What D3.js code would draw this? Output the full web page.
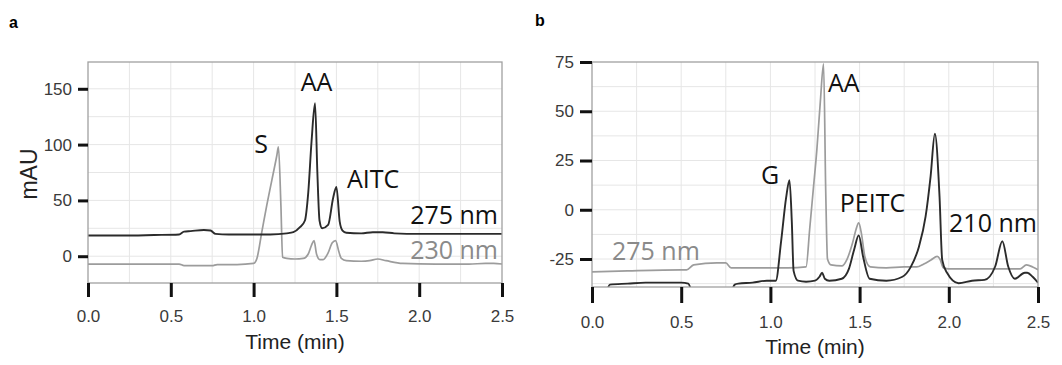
<!DOCTYPE html>
<html>
<head>
<meta charset="utf-8">
<script src="https://cdn.jsdelivr.net/npm/d3@7"></script>
<style>
  body { margin: 0; background: #fff; }
  svg { display: block; }
  .tick text { font-family: "Liberation Sans Narrow", "Liberation Sans", Arial, sans-serif; font-size: 17px; fill: #3a3a3a; }
  .tick line { stroke: #111; stroke-width: 3; }
  .grid line { stroke: #e6e6e6; stroke-width: 1; }
  .peak { font-family: "Open Sans", sans-serif; font-size: 25px; }
  .title { font-family: "Liberation Sans", Arial, sans-serif; font-size: 21px; fill: #222; }
</style>
</head>
<body>
<svg id="chart" width="1062" height="365"></svg>
<script>
// panel a : 275 nm trace
var aTime275 = [0, 0.2, 0.4, 0.55, 0.58, 0.62, 0.7, 0.74, 0.77, 0.85, 1.0, 1.1, 1.2, 1.24, 1.28, 1.31, 1.33, 1.35, 1.371, 1.385, 1.398, 1.414, 1.45, 1.48, 1.5, 1.52, 1.537, 1.56, 1.65, 1.72, 1.78, 1.85, 2.0, 2.2, 2.4, 2.5];
var aVal275 = [18.5, 18.5, 19, 19.5, 22, 22.5, 23.5, 23, 20, 19.5, 19.5, 19.5, 20.5, 21.5, 26, 32, 57, 103, 137, 75, 32, 25, 28, 52, 62, 31, 23, 21, 20.5, 21.5, 21.5, 20.5, 20, 20, 20, 20];

// panel a : 230 nm trace
var aTime230 = [0, 0.3, 0.55, 0.58, 0.75, 0.78, 0.9, 1.0, 1.02, 1.05, 1.08, 1.11, 1.14, 1.15, 1.165, 1.175, 1.2, 1.25, 1.3, 1.33, 1.35, 1.365, 1.38, 1.4, 1.42, 1.45, 1.475, 1.495, 1.515, 1.53, 1.56, 1.65, 1.7, 1.75, 1.8, 1.9, 2.1, 2.3, 2.4, 2.45, 2.5];
var aVal230 = [-7, -7, -7, -8.5, -8.5, -7.5, -7.5, -6.5, -2, 22, 46, 68, 90, 98, 45, -1, -2, -2.5, -2, 2, 10, 14, 2, -3, -3, 3, 12, 14, 4, -2, -4, -4.5, -4, -2.5, -4, -6.5, -7, -7, -6.5, -6.5, -7];

// panel b : 275 nm trace
var bTime275 = [0, 0.2, 0.5, 0.53, 0.57, 0.7, 0.75, 0.78, 0.9, 1.0, 1.1, 1.2, 1.22, 1.24, 1.26, 1.28, 1.298, 1.31, 1.32, 1.34, 1.4, 1.43, 1.46, 1.48, 1.495, 1.51, 1.53, 1.56, 1.65, 1.75, 1.82, 1.86, 1.9, 1.935, 1.95, 1.97, 2.0, 2.2, 2.4, 2.435, 2.47, 2.5];
var bVal275 = [-31.5, -31, -30.5, -30.5, -28, -27, -27, -29.5, -29.5, -29.5, -29.5, -29, -10, 10, 30, 55, 74, 10, -25, -28, -28.5, -25, -17, -10, -6.7, -12, -24, -29, -29.5, -29, -29, -27.5, -25.5, -23.7, -25, -29.5, -30, -30, -30, -28, -29, -30.5];

// panel b : 210 nm trace
var bTime210 = [0, 0.08, 0.1, 0.2, 0.3, 0.4, 0.5, 0.54, 0.56, 0.78, 0.8, 0.82, 0.9, 0.98, 1.03, 1.06, 1.088, 1.107, 1.12, 1.13, 1.155, 1.2, 1.25, 1.275, 1.29, 1.305, 1.33, 1.4, 1.44, 1.47, 1.495, 1.52, 1.556, 1.65, 1.74, 1.787, 1.833, 1.87, 1.898, 1.922, 1.948, 1.963, 1.99, 2.055, 2.13, 2.2, 2.26, 2.3, 2.333, 2.37, 2.426, 2.44, 2.47, 2.5];
var bVal210 = [-41, -41, -38, -37.5, -37, -37, -37, -37.5, -41, -41, -38, -37.5, -37, -36, -36, -16, 6, 15, -6, -31, -36, -36.5, -36, -34, -32, -35, -36, -35, -30, -20, -13, -24, -35, -36, -34, -29, -18.6, -3.4, 17, 38.6, 6.8, -25.4, -32, -37.3, -36, -35.6, -28.8, -16, -28.8, -35, -32, -32, -34, -37];

// tick labels
var timeTicks = [0, 0.5, 1.0, 1.5, 2.0, 2.5];
var aTicks = [0, 50, 100, 150];
var bTicks = [-25, 0, 25, 50, 75];

// peak annotations (time, mAU)
var aLabels = [
  { text: 'S', t: 1.045, v: 92.5, anchor: 'middle', grey: false },
  { text: 'AA', t: 1.38, v: 148, anchor: 'middle', grey: false },
  { text: 'AITC', t: 1.564, v: 61, anchor: 'start', grey: false },
  { text: '275 nm', t: 2.476, v: 28.7, anchor: 'end', grey: false },
  { text: '230 nm', t: 2.476, v: -2.7, anchor: 'end', grey: true }
];
var bLabels = [
  { text: 'AA', t: 1.323, v: 60, anchor: 'start', grey: false },
  { text: 'G', t: 0.998, v: 13.2, anchor: 'middle', grey: false },
  { text: 'PEITC', t: 1.572, v: -1, anchor: 'middle', grey: false },
  { text: '210 nm', t: 2.494, v: -11.2, anchor: 'end', grey: false },
  { text: '275 nm', t: 0.112, v: -25.4, anchor: 'start', grey: true }
];

var svg = d3.select('#chart');

function toPoints(times, vals) {
  return times.map(function(t, i) { return [t, vals[i]]; });
}

function drawPanel(opts) {
  var g = svg.append('g').attr('class', 'panel-' + opts.id);

  var x = d3.scaleLinear().domain([0, 2.5]).range([opts.left, opts.right]);
  var y = d3.scaleLinear().domain(opts.yDomain).range([opts.bottom, opts.top]);

  // light grid, every 0.25 min and every half y step
  var grid = g.append('g').attr('class', 'grid');
  grid.selectAll('line.v')
    .data(d3.range(0.25, 2.5, 0.25))
    .enter().append('line')
    .attr('x1', function(d) { return x(d); })
    .attr('x2', function(d) { return x(d); })
    .attr('y1', opts.top)
    .attr('y2', opts.bottom);
  grid.selectAll('line.h')
    .data(d3.range(opts.gridStart, opts.yDomain[1], opts.gridStep))
    .enter().append('line')
    .attr('x1', opts.left)
    .attr('x2', opts.right)
    .attr('y1', function(d) { return y(d); })
    .attr('y2', function(d) { return y(d); });

  var clipId = 'clip-' + opts.id;
  g.append('clipPath').attr('id', clipId)
    .append('rect')
    .attr('x', opts.left).attr('y', opts.top)
    .attr('width', opts.right - opts.left)
    .attr('height', opts.bottom - opts.top);

  var line = d3.line()
    .x(function(d) { return x(d[0]); })
    .y(function(d) { return y(d[1]); })
    .curve(d3.curveMonotoneX);

  var traces = g.append('g').attr('clip-path', 'url(#' + clipId + ')');
  opts.series.forEach(function(s) {
    traces.append('path')
      .datum(s.points)
      .attr('fill', 'none')
      .attr('stroke', s.color)
      .attr('stroke-width', s.width)
      .attr('stroke-linejoin', 'round')
      .attr('d', line);
  });

  // plot frame
  g.append('rect')
    .attr('x', opts.left).attr('y', opts.top)
    .attr('width', opts.right - opts.left)
    .attr('height', opts.bottom - opts.top)
    .attr('fill', 'none')
    .attr('stroke', '#a0a0a0')
    .attr('stroke-width', 1.3);

  var fmt = function(d) { return String(d); };

  var xAxis = g.append('g')
    .attr('transform', 'translate(0,' + opts.bottom + ')')
    .call(d3.axisBottom(x).tickValues(timeTicks).tickFormat(d3.format('.1f'))
      .tickSize(opts.xTick).tickPadding(13));
  xAxis.select('.domain').remove();

  var yAxis = g.append('g')
    .attr('transform', 'translate(' + opts.left + ',0)')
    .call(d3.axisLeft(y).tickValues(opts.yTicks).tickFormat(fmt)
      .tickSize(opts.yTick).tickPadding(6));
  yAxis.select('.domain').remove();

  g.append('text')
    .attr('class', 'title')
    .attr('x', (opts.left + opts.right) / 2)
    .attr('y', opts.titleY)
    .attr('text-anchor', 'middle')
    .text('Time (min)');

  g.selectAll('text.peak')
    .data(opts.labels)
    .enter().append('text')
    .attr('class', 'peak')
    .attr('x', function(d) { return x(d.t); })
    .attr('y', function(d) { return y(d.v); })
    .attr('text-anchor', function(d) { return d.anchor; })
    .attr('fill', function(d) { return d.grey ? '#8a8a8a' : '#111'; })
    .text(function(d) { return d.text; });

  g.append('text')
    .attr('x', opts.tagX).attr('y', opts.tagY)
    .attr('font-family', 'Liberation Sans, Arial, sans-serif')
    .attr('font-weight', 'bold')
    .attr('font-size', 16)
    .text(opts.id);

  return { x: x, y: y };
}

drawPanel({
  id: 'a',
  left: 88, right: 502, top: 62, bottom: 283,
  yDomain: [-24, 174], yTicks: aTicks, gridStart: 0, gridStep: 25,
  xTick: 14, yTick: 10, titleY: 349, tagX: 9, tagY: 28,
  labels: aLabels,
  series: [
    { points: toPoints(aTime230, aVal230), color: '#9c9c9c', width: 1.7 },
    { points: toPoints(aTime275, aVal275), color: '#2b2b2b', width: 1.9 }
  ]
});

drawPanel({
  id: 'b',
  left: 592, right: 1038, top: 62, bottom: 287,
  yDomain: [-39.2, 75], yTicks: bTicks, gridStart: -37.5, gridStep: 12.5,
  xTick: 16, yTick: 12, titleY: 354, tagX: 535, tagY: 26,
  labels: bLabels,
  series: [
    { points: toPoints(bTime275, bVal275), color: '#9c9c9c', width: 1.7 },
    { points: toPoints(bTime210, bVal210), color: '#2b2b2b', width: 1.9 }
  ]
});

// y axis title for panel a
svg.append('text')
  .attr('class', 'title')
  .attr('transform', 'translate(37,174) rotate(-90)')
  .attr('text-anchor', 'middle')
  .style('font-size', '23px')
  .text('mAU');
</script>
</body>
</html>
